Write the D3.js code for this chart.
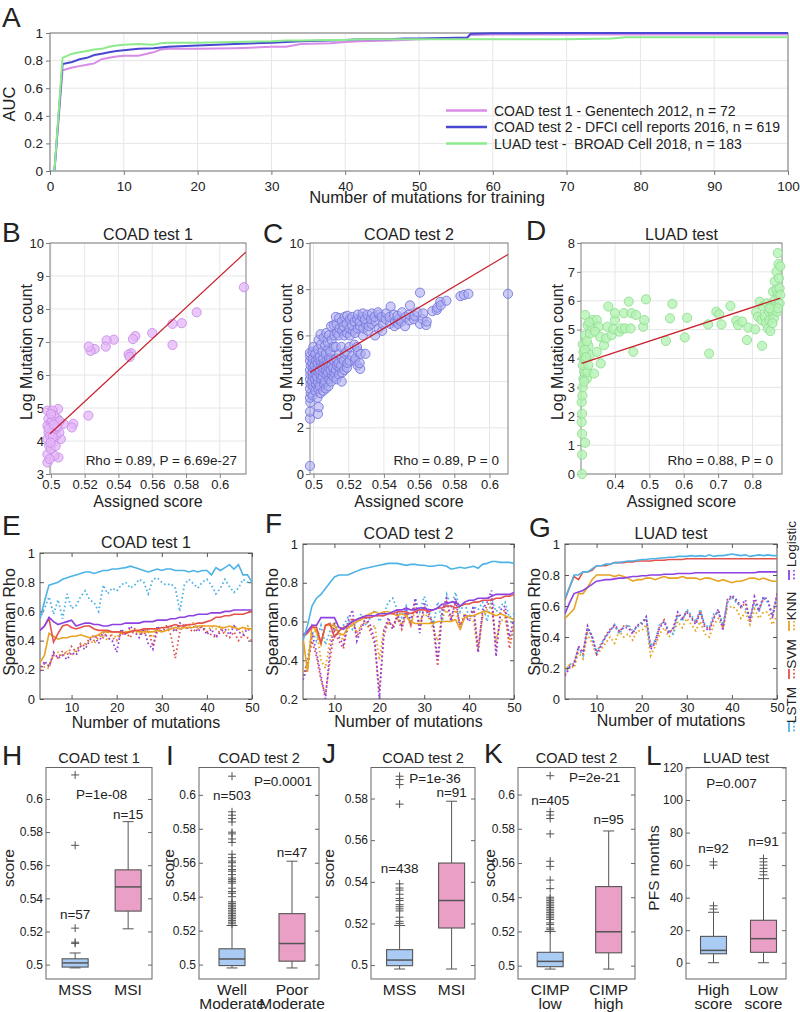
<!DOCTYPE html>
<html>
<head>
<meta charset="utf-8">
<script src="https://cdn.jsdelivr.net/npm/d3@7/dist/d3.min.js"></script>
<style>
  body { margin: 0; background: #fff; }
</style>
</head>
<body>
<svg id="fig" width="800" height="1012"></svg>
<script>
// ---------------------------------------------------------------------------
// Data
// ---------------------------------------------------------------------------

// A: AUC vs number of mutations used for training.
const aTrainX = [0.6, 1.7, 3, 4, 5, 6, 7, 8, 9, 10, 12, 14, 15, 16, 20, 25, 30, 32, 34, 38,
                 40, 42, 46, 48, 50, 55, 56.5, 57, 60, 70, 76, 78, 80, 90, 100];
const aCoad1 = [0, 0.73, 0.75, 0.76, 0.77, 0.78, 0.81, 0.82, 0.83, 0.835, 0.835, 0.86, 0.88, 0.885, 0.885,
                0.89, 0.90, 0.90, 0.92, 0.925, 0.935, 0.94, 0.945, 0.95, 0.955, 0.96, 0.965, 0.985, 0.99, 0.99,
                0.99, 0.99, 0.99, 0.99, 0.99];
const aCoad2 = [0, 0.775, 0.79, 0.81, 0.82, 0.84, 0.85, 0.86, 0.87, 0.875, 0.885, 0.89, 0.895, 0.90, 0.91,
                0.92, 0.93, 0.935, 0.94, 0.945, 0.95, 0.955, 0.955, 0.96, 0.96, 0.965, 0.965, 0.995, 0.998, 1,
                1, 1, 1, 1, 1];
const aLuad  = [0, 0.82, 0.85, 0.86, 0.87, 0.88, 0.885, 0.90, 0.91, 0.915, 0.92, 0.915, 0.925, 0.93, 0.93,
                0.935, 0.94, 0.945, 0.945, 0.95, 0.95, 0.955, 0.955, 0.955, 0.955, 0.955, 0.955, 0.955, 0.955, 0.955,
                0.96, 0.97, 0.97, 0.97, 0.97];
const aLegend = ['COAD test 1 - Genentech 2012, n = 72',
                 'COAD test 2 - DFCI cell reports 2016, n = 619',
                 'LUAD test -  BROAD Cell 2018, n = 183'];
const aXTicks = [0, 10, 20, 30, 40, 50, 60, 70, 80, 90, 100];
const aYTicks = [0, 0.2, 0.4, 0.6, 0.8, 1];

// B-D: assigned score vs log mutation count.
const bPoints = [[0.6143, 8.66], [0.5863, 7.90], [0.5775, 7.57], [0.572, 7.55], [0.572, 6.91], [0.560, 7.27],
  [0.550, 7.18], [0.5486, 7.09], [0.5475, 6.66], [0.546, 6.62], [0.5467, 6.55], [0.5373, 7.07], [0.533, 7.05],
  [0.5325, 6.86], [0.5259, 6.79], [0.5235, 6.73], [0.5224, 6.86], [0.5222, 4.77], [0.5133, 4.52], [0.5124, 4.41],
  [0.5075, 4.52], [0.5059, 4.06], [0.5043, 4.97], [0.504, 4.67], [0.503, 4.16], [0.5045, 3.50], [0.502, 3.55],
  [0.498, 3.35], [0.498, 3.6], [0.499, 3.86], [0.498, 4.06], [0.4986, 4.26], [0.498, 4.46], [0.4986, 4.67],
  [0.498, 4.92], [0.501, 4.92], [0.5, 4.56], [0.501, 4.31], [0.5016, 3.96], [0.5, 3.76], [0.503, 4.56],
  [0.505, 4.26], [0.5024, 4.36], [0.4995, 4.16], [0.504, 4.41], [0.502, 4.77], [0.5008, 4.62], [0.4993, 3.45],
  [0.5012, 4.12], [0.5035, 4.45], [0.5028, 3.85], [0.5001, 4.82], [0.4988, 4.38], [0.5052, 4.6], [0.5018, 4.5],
  [0.4998, 3.95]];
const bFit = [[0.4995, 4.22], [0.6153, 9.72]];

const cPoints = [[0.498, 0.35], [0.498, 2.4], [0.498, 2.7], [0.4982, 3.1], [0.498, 3.3], [0.4984, 3.5], [0.498, 3.7],
  [0.4983, 3.9], [0.498, 4.1], [0.4982, 4.3], [0.498, 4.5], [0.4984, 4.7], [0.498, 4.9], [0.4981, 5.1], [0.498, 5.25],
  [0.4995, 3.4], [0.4998, 3.8], [0.4993, 4.0], [0.4997, 4.2], [0.4995, 4.4], [0.4999, 4.6], [0.4994, 4.8],
  [0.4996, 5.0], [0.4995, 5.3], [0.4999, 5.5], [0.501, 3.6], [0.5014, 3.9], [0.5008, 4.1], [0.5012, 4.3],
  [0.501, 4.5], [0.5006, 4.7], [0.5013, 4.9], [0.501, 5.2], [0.5025, 2.6], [0.5029, 2.9], [0.5022, 3.3],
  [0.5027, 3.7], [0.5025, 4.0], [0.5021, 4.2], [0.5028, 4.4], [0.5025, 4.6], [0.5023, 4.8], [0.5027, 5.0],
  [0.5025, 5.4], [0.5029, 5.8], [0.504, 3.5], [0.5036, 3.8], [0.5044, 4.1], [0.504, 4.3], [0.5037, 4.5],
  [0.5043, 4.7], [0.504, 4.9], [0.5036, 5.1], [0.5042, 5.6], [0.504, 6.05], [0.5055, 3.6], [0.5059, 3.9],
  [0.5052, 4.2], [0.5056, 4.4], [0.5053, 4.6], [0.5058, 4.8], [0.5055, 5.0], [0.5051, 5.3], [0.5057, 5.9],
  [0.507, 3.7], [0.5066, 4.0], [0.5073, 4.3], [0.507, 4.5], [0.5067, 4.7], [0.5074, 4.9], [0.507, 5.2],
  [0.5066, 5.55], [0.5072, 6.1], [0.5085, 3.8], [0.5089, 4.1], [0.5082, 4.4], [0.5086, 4.6], [0.5083, 4.8],
  [0.5088, 5.0], [0.5085, 5.4], [0.5081, 5.7], [0.5087, 6.0], [0.510, 4.0], [0.5104, 4.3], [0.5097, 4.5],
  [0.5102, 4.7], [0.510, 5.0], [0.5096, 5.3], [0.5103, 5.8], [0.510, 6.4], [0.5115, 4.2], [0.5118, 4.4],
  [0.5112, 4.6], [0.5116, 4.9], [0.5113, 5.5], [0.5118, 6.0], [0.5115, 6.45], [0.513, 4.1], [0.5127, 4.5],
  [0.5133, 4.7], [0.513, 5.0], [0.5126, 5.5], [0.5134, 6.1], [0.513, 6.5], [0.5127, 6.8], [0.5145, 4.3],
  [0.5148, 4.6], [0.5142, 4.8], [0.5146, 5.2], [0.5143, 6.0], [0.5148, 6.3], [0.5145, 6.75], [0.516, 4.0],
  [0.5163, 4.4], [0.5157, 4.7], [0.5161, 5.0], [0.5158, 5.5], [0.5163, 6.2], [0.516, 6.6], [0.5175, 4.5],
  [0.5172, 4.9], [0.5178, 5.2], [0.5175, 6.0], [0.5171, 6.4], [0.5177, 6.8], [0.519, 4.6], [0.5193, 4.8],
  [0.5187, 5.3], [0.5191, 6.1], [0.5188, 6.5], [0.5192, 6.85], [0.5205, 4.9], [0.5202, 5.5], [0.5208, 6.0],
  [0.5204, 6.3], [0.5207, 6.7], [0.522, 5.1], [0.5223, 6.2], [0.5217, 6.45], [0.522, 6.8], [0.5235, 4.9],
  [0.5238, 5.0], [0.5232, 5.6], [0.5236, 6.1], [0.5233, 6.6], [0.525, 4.7], [0.5253, 5.3], [0.5247, 5.5],
  [0.5251, 6.3], [0.5248, 6.7], [0.5252, 6.9], [0.5265, 4.55], [0.5262, 4.8], [0.5268, 5.2], [0.5265, 6.4],
  [0.5263, 6.6], [0.528, 6.0], [0.5283, 6.3], [0.5277, 6.8], [0.528, 6.95], [0.5295, 5.2], [0.5298, 6.5],
  [0.5292, 6.7], [0.531, 6.2], [0.5313, 6.4], [0.5307, 6.9], [0.533, 6.5], [0.5327, 6.7], [0.5333, 6.95],
  [0.535, 6.0], [0.5353, 6.6], [0.5347, 6.8], [0.537, 6.3], [0.5373, 6.9], [0.5367, 7.0], [0.539, 6.2],
  [0.5393, 6.5], [0.5387, 6.8], [0.541, 6.7], [0.5413, 6.95], [0.5435, 6.5], [0.5432, 6.8], [0.5438, 7.25],
  [0.546, 6.4], [0.5463, 6.6], [0.5457, 6.9], [0.548, 6.5], [0.5483, 6.7], [0.5477, 6.85], [0.550, 6.6],
  [0.5503, 7.0], [0.552, 6.4], [0.5523, 6.8], [0.5545, 6.65], [0.5542, 6.9], [0.5548, 7.3], [0.557, 6.7],
  [0.5573, 6.85], [0.559, 7.0], [0.5605, 6.5], [0.5605, 7.85], [0.562, 6.7], [0.5623, 6.95], [0.564, 6.45],
  [0.5643, 6.6], [0.5675, 7.05], [0.570, 7.1], [0.5703, 7.2], [0.572, 7.45], [0.5723, 7.3], [0.5755, 7.5],
  [0.5835, 7.7], [0.5855, 7.75], [0.588, 7.8], [0.6105, 7.8]];
const cFit = [[0.498, 4.4], [0.6105, 9.5]];

const dPoints = [[0.304, 0], [0.304, 0.67], [0.313, 1.08], [0.304, 1.39], [0.303, 1.8], [0.304, 2.09],
  [0.303, 2.49], [0.305, 2.72], [0.306, 3.0], [0.308, 3.3], [0.31, 3.54], [0.306, 3.77], [0.308, 4.0],
  [0.308, 4.23], [0.306, 4.49], [0.313, 3.99], [0.318, 3.3], [0.32, 3.54], [0.3226, 3.77], [0.327, 4.12],
  [0.3226, 4.44], [0.313, 4.81], [0.313, 5.51], [0.32, 5.16], [0.327, 4.87], [0.332, 5.1], [0.335, 5.33],
  [0.339, 3.48], [0.347, 4.23], [0.347, 5.33], [0.352, 5.1], [0.342, 4.93], [0.3565, 4.75], [0.3584, 3.83],
  [0.368, 4.46], [0.374, 4.7], [0.3806, 5.8], [0.3777, 5.1], [0.39, 4.81], [0.395, 5.02], [0.4, 5.33],
  [0.4, 5.57], [0.4126, 4.93], [0.4194, 5.04], [0.426, 5.57], [0.429, 5.04], [0.44, 5.97], [0.4455, 5.04],
  [0.448, 5.57], [0.453, 4.23], [0.461, 5.51], [0.482, 5.1], [0.485, 5.33], [0.49, 6.05], [0.548, 4.61],
  [0.56, 5.39], [0.567, 5.89], [0.603, 4.73], [0.61, 5.41], [0.671, 5.18], [0.674, 4.17], [0.695, 5.62],
  [0.703, 5.53], [0.71, 5.18], [0.736, 5.82], [0.753, 5.31], [0.758, 5.16], [0.77, 5.28], [0.784, 4.64],
  [0.788, 5.07], [0.808, 5.01], [0.811, 5.6], [0.816, 5.45], [0.821, 5.97], [0.826, 5.33], [0.828, 4.44],
  [0.831, 5.8], [0.836, 5.45], [0.839, 5.22], [0.842, 5.91], [0.845, 5.04], [0.848, 5.62], [0.85, 5.33],
  [0.852, 4.95], [0.855, 5.86], [0.858, 5.62], [0.86, 6.32], [0.862, 5.39], [0.865, 6.03], [0.865, 6.67],
  [0.868, 5.8], [0.87, 7.01], [0.87, 6.38], [0.8715, 5.62], [0.874, 6.2], [0.874, 7.65], [0.876, 7.27],
  [0.877, 6.78], [0.879, 5.91], [0.879, 6.43], [0.881, 7.19], [0.881, 6.2], [0.874, 5.74], [0.858, 5.22],
  [0.85, 5.74], [0.312, 4.3], [0.316, 4.05], [0.31, 3.2], [0.318, 4.6], [0.325, 5.25]];
const dFit = [[0.303, 3.83], [0.881, 6.09]];

// E-G: Spearman rho vs number of mutations (solid = model, dotted = its dotted twin).
const mutCounts = [3, 4, 5, 6, 7, 8, 9, 10, 11, 12, 13, 14, 15, 16, 17, 18, 19, 20, 21, 22, 23, 24, 25, 26,
                   27, 28, 29, 30, 31, 32, 33, 34, 35, 36, 37, 38, 39, 40, 41, 42, 43, 44, 45, 46, 47, 48, 49, 50];

const eLstm = [0.55, 0.67, 0.78, 0.79, 0.80, 0.82, 0.83, 0.84, 0.85, 0.86, 0.87, 0.87, 0.86, 0.87, 0.88, 0.88,
  0.89, 0.89, 0.895, 0.90, 0.91, 0.90, 0.89, 0.88, 0.87, 0.88, 0.89, 0.88, 0.89, 0.89, 0.88, 0.88, 0.88, 0.87,
  0.88, 0.87, 0.88, 0.88, 0.85, 0.90, 0.88, 0.90, 0.92, 0.89, 0.92, 0.85, 0.85, 0.80];
const eLstmDot = [0.55, 0.62, 0.70, 0.58, 0.68, 0.55, 0.72, 0.62, 0.64, 0.70, 0.74, 0.68, 0.66, 0.60, 0.78, 0.72,
  0.76, 0.74, 0.78, 0.80, 0.76, 0.78, 0.82, 0.80, 0.72, 0.82, 0.83, 0.80, 0.78, 0.79, 0.76, 0.60, 0.78, 0.82,
  0.79, 0.76, 0.80, 0.82, 0.78, 0.72, 0.76, 0.82, 0.77, 0.73, 0.76, 0.82, 0.80, 0.80];
const eLog = [0.47, 0.50, 0.56, 0.53, 0.51, 0.52, 0.53, 0.54, 0.50, 0.51, 0.52, 0.52, 0.51, 0.51, 0.50, 0.50,
  0.51, 0.51, 0.51, 0.52, 0.52, 0.52, 0.52, 0.53, 0.53, 0.53, 0.54, 0.54, 0.54, 0.55, 0.55, 0.56, 0.56, 0.57,
  0.57, 0.58, 0.58, 0.58, 0.59, 0.59, 0.59, 0.60, 0.60, 0.61, 0.61, 0.61, 0.61, 0.61];
const eLogDot = [0.19, 0.26, 0.22, 0.32, 0.28, 0.30, 0.27, 0.32, 0.30, 0.36, 0.34, 0.40, 0.44, 0.38, 0.46, 0.42,
  0.40, 0.32, 0.48, 0.44, 0.50, 0.46, 0.42, 0.48, 0.38, 0.34, 0.50, 0.46, 0.48, 0.50, 0.46, 0.52, 0.50, 0.48,
  0.50, 0.46, 0.50, 0.44, 0.48, 0.42, 0.46, 0.48, 0.44, 0.50, 0.46, 0.44, 0.48, 0.46];
const eSvm = [0.47, 0.50, 0.55, 0.39, 0.45, 0.50, 0.51, 0.49, 0.48, 0.49, 0.50, 0.50, 0.48, 0.47, 0.47, 0.47,
  0.46, 0.46, 0.46, 0.45, 0.46, 0.47, 0.47, 0.48, 0.48, 0.48, 0.48, 0.49, 0.49, 0.50, 0.51, 0.50, 0.50, 0.51,
  0.51, 0.52, 0.52, 0.53, 0.54, 0.56, 0.56, 0.57, 0.57, 0.58, 0.58, 0.58, 0.59, 0.60];
const eSvmDot = [0.22, 0.24, 0.23, 0.30, 0.28, 0.33, 0.30, 0.36, 0.32, 0.38, 0.36, 0.42, 0.40, 0.44, 0.42, 0.46,
  0.42, 0.40, 0.44, 0.46, 0.42, 0.48, 0.46, 0.44, 0.48, 0.36, 0.46, 0.48, 0.50, 0.44, 0.28, 0.46, 0.52, 0.48,
  0.46, 0.50, 0.48, 0.46, 0.44, 0.42, 0.48, 0.44, 0.42, 0.46, 0.40, 0.44, 0.42, 0.40];
const eKnn = [0.25, 0.30, 0.45, 0.43, 0.41, 0.42, 0.42, 0.43, 0.43, 0.44, 0.43, 0.42, 0.43, 0.44, 0.46, 0.46,
  0.46, 0.46, 0.45, 0.46, 0.46, 0.47, 0.46, 0.46, 0.46, 0.46, 0.47, 0.46, 0.47, 0.48, 0.49, 0.48, 0.49, 0.49,
  0.49, 0.50, 0.50, 0.50, 0.50, 0.50, 0.49, 0.49, 0.50, 0.49, 0.48, 0.49, 0.48, 0.48];
const eKnnDot = [0.20, 0.22, 0.21, 0.31, 0.32, 0.29, 0.33, 0.30, 0.34, 0.36, 0.38, 0.40, 0.38, 0.42, 0.44, 0.40,
  0.44, 0.42, 0.46, 0.44, 0.48, 0.46, 0.44, 0.48, 0.46, 0.42, 0.48, 0.46, 0.50, 0.48, 0.46, 0.50, 0.48, 0.50,
  0.52, 0.48, 0.50, 0.46, 0.50, 0.48, 0.50, 0.46, 0.48, 0.50, 0.48, 0.46, 0.50, 0.48];

const fLstm = [0.50, 0.58, 0.68, 0.72, 0.74, 0.77, 0.80, 0.83, 0.84, 0.84, 0.84, 0.85, 0.86, 0.87, 0.875, 0.88,
  0.885, 0.89, 0.895, 0.90, 0.90, 0.90, 0.895, 0.89, 0.895, 0.895, 0.89, 0.89, 0.885, 0.885, 0.89, 0.89, 0.885,
  0.87, 0.875, 0.88, 0.875, 0.88, 0.885, 0.875, 0.895, 0.90, 0.91, 0.91, 0.905, 0.905, 0.905, 0.90];
const fLstmDot = [0.30, 0.40, 0.55, 0.50, 0.58, 0.48, 0.55, 0.60, 0.55, 0.58, 0.62, 0.56, 0.60, 0.64, 0.58, 0.62,
  0.66, 0.60, 0.64, 0.70, 0.72, 0.66, 0.62, 0.68, 0.60, 0.72, 0.65, 0.73, 0.66, 0.58, 0.70, 0.60, 0.74, 0.68,
  0.75, 0.65, 0.70, 0.62, 0.68, 0.66, 0.70, 0.60, 0.72, 0.65, 0.68, 0.70, 0.62, 0.64];
const fLog = [0.53, 0.55, 0.58, 0.58, 0.62, 0.62, 0.62, 0.62, 0.57, 0.56, 0.58, 0.60, 0.61, 0.62, 0.63, 0.63,
  0.63, 0.64, 0.64, 0.64, 0.65, 0.66, 0.66, 0.67, 0.66, 0.66, 0.67, 0.67, 0.66, 0.66, 0.67, 0.69, 0.69, 0.70,
  0.70, 0.68, 0.70, 0.71, 0.71, 0.72, 0.72, 0.72, 0.73, 0.74, 0.74, 0.74, 0.74, 0.75];
const fLogDot = [0.30, 0.36, 0.54, 0.44, 0.32, 0.20, 0.45, 0.58, 0.52, 0.48, 0.60, 0.66, 0.50, 0.56, 0.62, 0.58,
  0.50, 0.20, 0.55, 0.62, 0.56, 0.64, 0.58, 0.66, 0.60, 0.72, 0.54, 0.70, 0.62, 0.60, 0.40, 0.66, 0.72, 0.60,
  0.72, 0.56, 0.64, 0.60, 0.68, 0.44, 0.66, 0.70, 0.76, 0.42, 0.66, 0.68, 0.52, 0.62];
const fSvm = [0.52, 0.54, 0.57, 0.57, 0.49, 0.58, 0.59, 0.52, 0.55, 0.57, 0.58, 0.60, 0.61, 0.62, 0.62, 0.62,
  0.63, 0.63, 0.63, 0.64, 0.64, 0.65, 0.65, 0.65, 0.64, 0.65, 0.66, 0.66, 0.65, 0.66, 0.67, 0.67, 0.68, 0.68,
  0.67, 0.68, 0.69, 0.69, 0.70, 0.70, 0.71, 0.71, 0.71, 0.72, 0.72, 0.73, 0.73, 0.74];
const fSvmDot = [0.32, 0.38, 0.50, 0.42, 0.30, 0.22, 0.40, 0.55, 0.50, 0.46, 0.58, 0.62, 0.52, 0.58, 0.60, 0.55,
  0.48, 0.24, 0.52, 0.60, 0.58, 0.62, 0.56, 0.64, 0.58, 0.70, 0.56, 0.68, 0.64, 0.58, 0.37, 0.64, 0.70, 0.62,
  0.70, 0.58, 0.62, 0.62, 0.66, 0.46, 0.64, 0.68, 0.72, 0.45, 0.64, 0.66, 0.46, 0.58];
const fKnn = [0.52, 0.34, 0.58, 0.55, 0.48, 0.58, 0.58, 0.58, 0.54, 0.53, 0.57, 0.58, 0.60, 0.61, 0.63, 0.64,
  0.65, 0.64, 0.65, 0.65, 0.64, 0.63, 0.64, 0.63, 0.60, 0.59, 0.59, 0.59, 0.59, 0.59, 0.60, 0.60, 0.60, 0.60,
  0.61, 0.56, 0.62, 0.63, 0.63, 0.64, 0.65, 0.65, 0.64, 0.63, 0.64, 0.63, 0.62, 0.61];
const fKnnDot = [0.34, 0.38, 0.52, 0.56, 0.40, 0.36, 0.50, 0.60, 0.54, 0.50, 0.56, 0.60, 0.54, 0.58, 0.62, 0.56,
  0.58, 0.40, 0.56, 0.60, 0.56, 0.62, 0.58, 0.64, 0.58, 0.66, 0.60, 0.64, 0.62, 0.56, 0.50, 0.62, 0.66, 0.60,
  0.66, 0.58, 0.64, 0.62, 0.60, 0.44, 0.62, 0.66, 0.68, 0.50, 0.60, 0.62, 0.50, 0.58];

const gLstm = [0.65, 0.72, 0.80, 0.80, 0.82, 0.82, 0.84, 0.86, 0.86, 0.87, 0.87, 0.88, 0.88, 0.885, 0.89, 0.89,
  0.895, 0.90, 0.90, 0.905, 0.905, 0.91, 0.91, 0.915, 0.915, 0.92, 0.92, 0.92, 0.925, 0.92, 0.925, 0.92, 0.93,
  0.92, 0.925, 0.925, 0.93, 0.935, 0.93, 0.925, 0.93, 0.92, 0.925, 0.93, 0.925, 0.93, 0.925, 0.925];
const gLstmDot = [0.18, 0.22, 0.24, 0.32, 0.28, 0.46, 0.40, 0.30, 0.36, 0.40, 0.44, 0.48, 0.42, 0.46, 0.48, 0.44,
  0.46, 0.50, 0.52, 0.34, 0.38, 0.48, 0.50, 0.44, 0.42, 0.54, 0.50, 0.58, 0.54, 0.50, 0.58, 0.48, 0.46, 0.55,
  0.56, 0.48, 0.62, 0.66, 0.62, 0.60, 0.58, 0.52, 0.62, 0.56, 0.66, 0.62, 0.55, 0.66];
const gLog = [0.55, 0.62, 0.68, 0.69, 0.70, 0.72, 0.74, 0.76, 0.765, 0.77, 0.77, 0.775, 0.78, 0.78, 0.785, 0.79,
  0.79, 0.795, 0.795, 0.80, 0.80, 0.80, 0.805, 0.805, 0.805, 0.81, 0.81, 0.81, 0.81, 0.815, 0.815, 0.815, 0.815,
  0.815, 0.815, 0.815, 0.815, 0.815, 0.815, 0.815, 0.815, 0.815, 0.815, 0.82, 0.82, 0.82, 0.82, 0.82];
const gLogDot = [0.15, 0.20, 0.22, 0.34, 0.30, 0.47, 0.40, 0.29, 0.34, 0.40, 0.44, 0.48, 0.44, 0.46, 0.46, 0.42,
  0.48, 0.48, 0.53, 0.32, 0.36, 0.46, 0.50, 0.42, 0.46, 0.56, 0.52, 0.56, 0.52, 0.48, 0.56, 0.46, 0.44, 0.52,
  0.58, 0.44, 0.64, 0.67, 0.64, 0.60, 0.64, 0.50, 0.66, 0.58, 0.66, 0.64, 0.52, 0.68];
const gSvm = [0.64, 0.72, 0.79, 0.77, 0.82, 0.82, 0.83, 0.86, 0.86, 0.86, 0.87, 0.88, 0.88, 0.88, 0.885, 0.885,
  0.89, 0.89, 0.89, 0.89, 0.895, 0.895, 0.895, 0.90, 0.90, 0.90, 0.90, 0.905, 0.905, 0.905, 0.905, 0.905, 0.905,
  0.905, 0.905, 0.905, 0.905, 0.905, 0.905, 0.905, 0.905, 0.905, 0.905, 0.905, 0.905, 0.905, 0.905, 0.905];
const gSvmDot = [0.16, 0.21, 0.23, 0.33, 0.29, 0.46, 0.41, 0.30, 0.35, 0.41, 0.45, 0.47, 0.43, 0.47, 0.47, 0.43,
  0.47, 0.49, 0.52, 0.33, 0.37, 0.47, 0.51, 0.43, 0.45, 0.55, 0.51, 0.57, 0.53, 0.49, 0.57, 0.47, 0.45, 0.53,
  0.57, 0.46, 0.63, 0.66, 0.63, 0.59, 0.62, 0.51, 0.64, 0.57, 0.65, 0.63, 0.53, 0.67];
const gKnn = [0.52, 0.55, 0.58, 0.68, 0.68, 0.72, 0.77, 0.80, 0.80, 0.80, 0.80, 0.79, 0.80, 0.79, 0.78, 0.76,
  0.77, 0.77, 0.78, 0.78, 0.77, 0.78, 0.79, 0.78, 0.78, 0.78, 0.79, 0.78, 0.78, 0.78, 0.77, 0.78, 0.78, 0.77,
  0.76, 0.77, 0.76, 0.75, 0.76, 0.76, 0.77, 0.78, 0.78, 0.77, 0.78, 0.77, 0.76, 0.76];
const gKnnDot = [0.20, 0.22, 0.20, 0.30, 0.26, 0.42, 0.36, 0.28, 0.32, 0.36, 0.40, 0.36, 0.44, 0.40, 0.42, 0.38,
  0.44, 0.44, 0.48, 0.28, 0.34, 0.42, 0.46, 0.40, 0.42, 0.50, 0.46, 0.52, 0.48, 0.44, 0.50, 0.42, 0.40, 0.48,
  0.52, 0.46, 0.58, 0.60, 0.58, 0.52, 0.56, 0.48, 0.58, 0.52, 0.56, 0.56, 0.48, 0.54];

const methods = ['LSTM', 'SVM', 'KNN', 'Logistic'];

// H-L: box plots, each box is [low whisker, q1, median, q3, high whisker].
const hGroups = [['MSS'], ['MSI']];
const hBoxes = [[0.498, 0.4985, 0.501, 0.5035, 0.507], [0.5216, 0.5323, 0.5469, 0.5572, 0.5863]];
const hOutliers = [[0.5128, 0.5135, 0.522, 0.572, 0.6145], []];

const iGroups = [['Well', 'Moderate'], ['Poor', 'Moderate']];
const iBoxes = [[0.498, 0.4994, 0.5033, 0.5093, 0.523], [0.498, 0.502, 0.5124, 0.530, 0.5609]];
const iOutliers = [[0.524, 0.525, 0.526, 0.527, 0.528, 0.529, 0.530, 0.531, 0.532, 0.533, 0.534, 0.535, 0.536,
  0.537, 0.540, 0.542, 0.543, 0.545, 0.548, 0.549, 0.550, 0.551, 0.553, 0.555, 0.556, 0.558, 0.560, 0.561, 0.563,
  0.565, 0.572, 0.574, 0.577, 0.578, 0.584, 0.586, 0.588, 0.590, 0.611], []];

const jGroups = [['MSS'], ['MSI']];
const jBoxes = [[0.4981, 0.4997, 0.5024, 0.5074, 0.519], [0.4981, 0.5178, 0.531, 0.549, 0.5787]];
const jOutliers = [[0.520, 0.521, 0.523, 0.526, 0.527, 0.528, 0.529, 0.531, 0.532, 0.534, 0.536, 0.537, 0.539,
  0.5773, 0.5867, 0.5891, 0.5907], []];

const kGroups = [['CIMP', 'low'], ['CIMP', 'high']];
const kBoxes = [[0.498, 0.4994, 0.5025, 0.5078, 0.52], [0.498, 0.5075, 0.5198, 0.5462, 0.5787]];
const kOutliers = [[0.521, 0.522, 0.524, 0.525, 0.527, 0.528, 0.529, 0.530, 0.531, 0.532, 0.533, 0.534, 0.535,
  0.536, 0.537, 0.538, 0.539, 0.540, 0.545, 0.550, 0.558, 0.561, 0.577, 0.586, 0.588, 0.590, 0.611], []];

const lGroups = [['High', 'score'], ['Low', 'score']];
const lBoxes = [[0, 5.5, 7.6, 16.2, 31], [0, 6.4, 14.8, 26.1, 51.7]];
const lOutliers = [[33, 35, 60, 62], [54, 56, 58, 60, 62, 64]];

// ---------------------------------------------------------------------------
// Drawing
// ---------------------------------------------------------------------------
const FONT = '"Liberation Sans", Arial, Helvetica, sans-serif';
const INK = '#222';
const svg = d3.select('#fig').attr('font-family', FONT);
const fmt = d => String(+d.toFixed(2));
const methodColor = { LSTM: '#4db3e6', SVM: '#e4524c', KNN: '#e8a322', Logistic: '#8e40e2' };
const boxFill = ['#a9cbf4', '#ea9fc6'];

// Plain text helper, rotation optional.
function label(str, x, y, size, anchor = 'middle', rot = 0) {
  return svg.append('text')
    .attr('transform', `translate(${x},${y}) rotate(${rot})`)
    .attr('text-anchor', anchor)
    .attr('font-size', size)
    .attr('fill', INK)
    .style('white-space', 'pre')
    .text(str);
}

// One axes box with scales, optional grid, ticks outside (A-D) or inside (E-L).
function panel(c) {
  const x = d3.scaleLinear().domain(c.xDom).range([c.x0, c.x1]);
  const y = d3.scaleLinear().domain(c.yDom).range([c.y1, c.y0]);
  const g = svg.append('g');
  if (c.grid) {
    g.selectAll('line.gx').data(c.xTicks).join('line').attr('class', 'gx')
      .attr('x1', d => x(d)).attr('x2', d => x(d)).attr('y1', c.y0).attr('y2', c.y1);
    g.selectAll('line.gy').data(c.yTicks).join('line').attr('class', 'gy')
      .attr('y1', d => y(d)).attr('y2', d => y(d)).attr('x1', c.x0).attr('x2', c.x1);
    g.selectAll('line.gx, line.gy').attr('stroke', '#e6e6e6').attr('stroke-width', 1);
  }
  g.append('rect')
    .attr('x', c.x0).attr('y', c.y0).attr('width', c.x1 - c.x0).attr('height', c.y1 - c.y0)
    .attr('fill', 'none').attr('stroke', c.frame).attr('stroke-width', 1);

  const len = c.inside ? -4 : 4;
  const put = (axis, tx, ty, pad, keep) => {
    const a = g.append('g').attr('transform', `translate(${tx},${ty})`)
      .call(axis.tickSize(len).tickSizeOuter(0).tickPadding(pad));
    a.attr('font-family', FONT).attr('font-size', c.fs);
    a.select('.domain').remove();
    a.selectAll('.tick line').attr('stroke', c.frame);
    if (keep) a.selectAll('.tick text').attr('fill', INK);
    else a.selectAll('.tick text').remove();
  };
  if (c.xTicks.length) {
    put(d3.axisBottom(x).tickValues(c.xTicks).tickFormat(c.xFmt || fmt), 0, c.y1, c.xPad, true);
    if (c.inside) put(d3.axisTop(x).tickValues(c.xTicks), 0, c.y0, 0, false);
  }
  put(d3.axisLeft(y).tickValues(c.yTicks).tickFormat(c.yFmt || fmt), c.x0, 0, c.yPad, true);
  if (c.inside) put(d3.axisRight(y).tickValues(c.yTicks), c.x1, 0, 0, false);
  return { g, x, y };
}

// ----- Panel A -----
const A = panel({ x0: 50, x1: 788, y0: 33, y1: 171, xDom: [0, 100], yDom: [0, 1],
  xTicks: aXTicks, yTicks: aYTicks, grid: true, frame: '#777', fs: 13.5, xPad: 6, yPad: 3,
  xFmt: d3.format('d') });
const aLine = d3.line().x((d, i) => A.x(aTrainX[i])).y(d => A.y(d));
const aColors = ['#d88ce8', '#4848d2', '#8dea8d'];
[aCoad1, aCoad2, aLuad].forEach((s, i) => {
  A.g.append('path').attr('d', aLine(s)).attr('fill', 'none')
    .attr('stroke', aColors[i]).attr('stroke-width', 2);
});
aLegend.forEach((t, i) => {
  const ly = 110.5 + i * 16.5;
  svg.append('line').attr('x1', 446).attr('x2', 487).attr('y1', ly).attr('y2', ly)
    .attr('stroke', aColors[i]).attr('stroke-width', 2.5);
  label(t, 494, ly + 5, 14, 'start');
});
label('A', 2, 27, 28, 'start');
label('AUC', 15, 104, 16.5, 'middle', -90);
label('Number of mutations for training', 427, 203, 16.5);

// ----- Panels B-D (scatter) -----
function scatter(c, pts, fit, fill, stroke) {
  const P = panel({ ...c, grid: true, frame: '#808080', fs: 13, xPad: 2, yPad: 2 });
  P.g.selectAll('circle').data(pts).join('circle')
    .attr('cx', d => P.x(d[0])).attr('cy', d => P.y(d[1])).attr('r', 4.6)
    .attr('fill', fill).attr('stroke', stroke).attr('stroke-width', 0.9);
  P.g.append('line')
    .attr('x1', P.x(fit[0][0])).attr('y1', P.y(fit[0][1]))
    .attr('x2', P.x(fit[1][0])).attr('y2', P.y(fit[1][1]))
    .attr('stroke', '#c8212b').attr('stroke-width', 1.2);
  label(c.title, (c.x0 + c.x1) / 2, c.y0 - 3, 16);
  label(c.stat, c.x1 - 9, c.y1 - 9.5, 13.5, 'end');
  label('Log Mutation count', c.x0 - 18, 352, 16, 'middle', -90);
  label('Assigned score', (c.x0 + c.x1) / 2, 507, 16);
  return P;
}
const scoreTicks = [0.5, 0.52, 0.54, 0.56, 0.58, 0.6];
scatter({ x0: 50, x1: 246, y0: 243, y1: 474, xDom: [0.4995, 0.6155], yDom: [3, 10],
  xTicks: scoreTicks, yTicks: [3, 4, 5, 6, 7, 8, 9, 10], title: 'COAD test 1',
  stat: 'Rho = 0.89, P = 6.69e-27' }, bPoints, bFit, 'rgba(228,182,248,0.75)', '#c98ee6');
scatter({ x0: 310, x1: 508, y0: 243, y1: 474, xDom: [0.498, 0.6105], yDom: [0, 10],
  xTicks: scoreTicks, yTicks: [0, 2, 4, 6, 8, 10], title: 'COAD test 2',
  stat: 'Rho = 0.89, P = 0' }, cPoints, cFit, 'rgba(172,172,242,0.6)', '#7777dc');
scatter({ x0: 581, x1: 782, y0: 243, y1: 474, xDom: [0.301, 0.886], yDom: [0, 8],
  xTicks: [0.4, 0.5, 0.6, 0.7, 0.8], yTicks: [0, 1, 2, 3, 4, 5, 6, 7, 8], title: 'LUAD test',
  stat: 'Rho = 0.88, P = 0' }, dPoints, dFit, 'rgba(182,242,182,0.8)', '#90df90');
label('B', 2, 242, 28, 'start');
label('C', 263, 243, 28, 'start');
label('D', 526, 240, 28, 'start');

// ----- Panels E-G (Spearman rho lines) -----
function linePanel(c, sets) {
  const P = panel({ ...c, xDom: [3, 50], xTicks: [10, 20, 30, 40, 50], inside: true,
    frame: '#555', fs: 13, xPad: 4, yPad: 5 });
  const id = 'clip' + c.key;
  svg.append('clipPath').attr('id', id).append('rect')
    .attr('x', c.x0).attr('y', c.y0).attr('width', c.x1 - c.x0).attr('height', c.y1 - c.y0);
  const line = d3.line().x((d, i) => P.x(mutCounts[i])).y(d => P.y(d));
  const lg = P.g.append('g').attr('clip-path', `url(#${id})`);
  // dotted twins underneath, solid curves on top
  sets.filter(s => s.dot).concat(sets.filter(s => !s.dot)).forEach(s => {
    lg.append('path').attr('d', line(s.v)).attr('fill', 'none')
      .attr('stroke', methodColor[s.m]).attr('stroke-width', s.dot ? 1.8 : 1.6)
      .attr('stroke-dasharray', s.dot ? '1.6,2.6' : null);
  });
  label(c.title, (c.x0 + c.x1) / 2, c.y0 - 5, 16);
  label('Spearman Rho', c.x0 - 25, 622, 16, 'middle', -90);
  label('Number of mutations', (c.x0 + c.x1) / 2, c.xl, 16);
  return P;
}
const rhoTicks = [0, 0.2, 0.4, 0.6, 0.8, 1];
linePanel({ key: 'E', x0: 40, x1: 252, y0: 553, y1: 699, yDom: [0, 1], yTicks: rhoTicks,
  title: 'COAD test 1', xl: 728 }, [
  { v: eKnnDot, m: 'KNN', dot: true }, { v: eSvmDot, m: 'SVM', dot: true },
  { v: eLogDot, m: 'Logistic', dot: true }, { v: eLstmDot, m: 'LSTM', dot: true },
  { v: eKnn, m: 'KNN' }, { v: eSvm, m: 'SVM' }, { v: eLog, m: 'Logistic' }, { v: eLstm, m: 'LSTM' }]);
linePanel({ key: 'F', x0: 303, x1: 514, y0: 544, y1: 699, yDom: [0.2, 1], yTicks: [0.2, 0.4, 0.6, 0.8, 1],
  title: 'COAD test 2', xl: 727 }, [
  { v: fLstmDot, m: 'LSTM', dot: true }, { v: fKnnDot, m: 'KNN', dot: true },
  { v: fSvmDot, m: 'SVM', dot: true }, { v: fLogDot, m: 'Logistic', dot: true },
  { v: fKnn, m: 'KNN' }, { v: fSvm, m: 'SVM' }, { v: fLog, m: 'Logistic' }, { v: fLstm, m: 'LSTM' }]);
linePanel({ key: 'G', x0: 565, x1: 777, y0: 544, y1: 699, yDom: [0, 1], yTicks: rhoTicks,
  title: 'LUAD test', xl: 726 }, [
  { v: gKnnDot, m: 'KNN', dot: true }, { v: gSvmDot, m: 'SVM', dot: true },
  { v: gLstmDot, m: 'LSTM', dot: true }, { v: gLogDot, m: 'Logistic', dot: true },
  { v: gKnn, m: 'KNN' }, { v: gLog, m: 'Logistic' }, { v: gSvm, m: 'SVM' }, { v: gLstm, m: 'LSTM' }]);
label('E', 2, 535, 28, 'start');
label('F', 265, 533, 28, 'start');
label('G', 529, 537, 28, 'start');

// vertical legend at the right edge of G
const legTextY = [705, 654, 606, 544];
const legMarkY = [727, 674, 626, 575];
methods.forEach((m, i) => {
  label(m, 795.5, legTextY[i], 13.5, 'middle', -90);
  const y0 = legMarkY[i] - 5, y1 = legMarkY[i] + 5;
  svg.append('line').attr('x1', 789).attr('x2', 789).attr('y1', y0).attr('y2', y1)
    .attr('stroke', methodColor[m]).attr('stroke-width', 1.8);
  svg.append('line').attr('x1', 794).attr('x2', 794).attr('y1', y0).attr('y2', y1)
    .attr('stroke', methodColor[m]).attr('stroke-width', 1.8).attr('stroke-dasharray', '1.6,2.2');
});

// ----- Panels H-L (box plots) -----
function boxPanel(c, groups, boxes, outs) {
  const P = panel({ ...c, y0: 767.5, y1: 979, xDom: [0.45, 2.45], xTicks: [], inside: true,
    frame: '#666', fs: 12, xPad: 4, yPad: 3 });
  const half = 13, cap = 5.5;
  boxes.forEach((b, i) => {
    const cx = P.x(i + 1);
    const [lo, q1, md, q3, hi] = b.map(P.y);
    const wg = P.g.append('g').attr('stroke', '#555').attr('stroke-width', 1);
    wg.append('line').attr('x1', cx).attr('x2', cx).attr('y1', lo).attr('y2', q1);
    wg.append('line').attr('x1', cx).attr('x2', cx).attr('y1', q3).attr('y2', hi);
    wg.append('line').attr('x1', cx - cap).attr('x2', cx + cap).attr('y1', lo).attr('y2', lo);
    wg.append('line').attr('x1', cx - cap).attr('x2', cx + cap).attr('y1', hi).attr('y2', hi);
    P.g.append('rect').attr('x', cx - half).attr('y', q3).attr('width', 2 * half).attr('height', q1 - q3)
      .attr('fill', boxFill[i]).attr('stroke', '#555').attr('stroke-width', 1.1);
    P.g.append('line').attr('x1', cx - half).attr('x2', cx + half).attr('y1', md).attr('y2', md)
      .attr('stroke', '#555').attr('stroke-width', 1.5);
    P.g.selectAll(null).data(outs[i]).join('path')
      .attr('d', d => `M${cx - 4},${P.y(d)}H${cx + 4}M${cx},${P.y(d) - 4}V${P.y(d) + 4}`)
      .attr('stroke', '#555').attr('stroke-width', 1);
    groups[i].forEach((t, k) => label(t, cx, 995 + k * 14, 15.5));
  });
  label(c.title, (c.x0 + c.x1) / 2, 763, 14.5);
  label(c.ylab, c.yl, 868, 15.5, 'middle', -90);
  c.notes.forEach(n => label(n[0], P.x(n[1]), P.y(n[2]), 13.5));
  return P;
}
const scoreBoxTicks = [0.5, 0.52, 0.54, 0.56, 0.58, 0.6];
boxPanel({ x0: 46, x1: 152, yDom: [0.4913, 0.619], yTicks: scoreBoxTicks, title: 'COAD test 1',
  ylab: 'score', yl: 14, notes: [['P=1e-08', 1.5, 0.6], ['n=57', 1, 0.5273], ['n=15', 2, 0.5879]] },
  hGroups, hBoxes, hOutliers);
boxPanel({ x0: 199, x1: 319, yDom: [0.4915, 0.6161], yTicks: scoreBoxTicks, title: 'COAD test 2',
  ylab: 'score', yl: 174, notes: [['P=0.0001', 1.85, 0.6053], ['n=503', 1, 0.597], ['n=47', 2, 0.5636]] },
  iGroups, iBoxes, iOutliers);
boxPanel({ x0: 371, x1: 475, yDom: [0.4933, 0.5949], yTicks: [0.5, 0.52, 0.54, 0.56, 0.58], title: 'COAD test 2',
  ylab: 'score', yl: 334, notes: [['P=1e-36', 1.68, 0.5875], ['n=91', 2, 0.5808], ['n=438', 1, 0.5441]] },
  jGroups, jBoxes, jOutliers);
boxPanel({ x0: 518, x1: 635, yDom: [0.4922, 0.6158], yTicks: scoreBoxTicks, title: 'COAD test 2',
  ylab: 'score', yl: 495, notes: [['P=2e-21', 1.76, 0.6074], ['n=405', 1, 0.5937], ['n=95', 2, 0.583]] },
  kGroups, kBoxes, kOutliers);
boxPanel({ x0: 686, x1: 786, yDom: [-10, 120], yTicks: [0, 20, 40, 60, 80, 100, 120], title: 'LUAD test',
  ylab: 'PFS months', yl: 659, notes: [['P=0.007', 1.36, 107.2], ['n=92', 1, 67.5], ['n=91', 2, 71.7]] },
  lGroups, lBoxes, lOutliers);
label('H', 2, 765, 28, 'start');
label('I', 166, 765, 28, 'start');
label('J', 322, 763, 28, 'start');
label('K', 484, 763, 28, 'start');
label('L', 646, 765, 28, 'start');
</script>
</body>
</html>
